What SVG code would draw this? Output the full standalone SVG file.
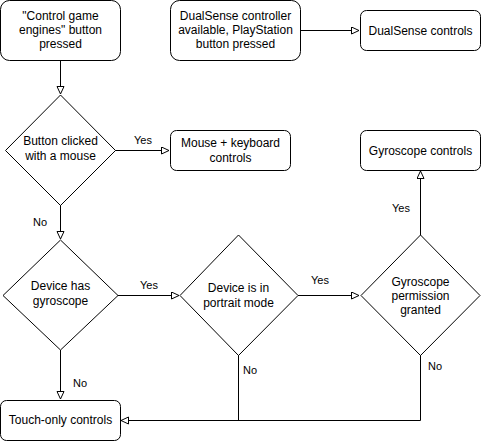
<svg xmlns="http://www.w3.org/2000/svg" width="481" height="441" viewBox="0 0 481 441">
<defs>
<marker id="arr" markerWidth="10" markerHeight="10" refX="8" refY="4" orient="auto" markerUnits="userSpaceOnUse">
<path d="M0.5,0.5 L8,4 L0.5,7.5 Z" fill="#fff" stroke="#000" stroke-width="1"/>
</marker>
</defs>
<style>
.box{fill:#fff;stroke:#000;stroke-width:1}
.t{font-family:"Liberation Sans",Arial,sans-serif;font-size:12px;fill:#000;text-anchor:middle}
.l{font-family:"Liberation Sans",Arial,sans-serif;font-size:11px;fill:#000;text-anchor:middle}
.c{fill:none;stroke:#000;stroke-width:1}
</style>
<rect width="481" height="441" fill="#fff"/>
<g id="connectors">
<path class="c" d="M60.5,60.5 V94" marker-end="url(#arr)"/>
<path class="c" d="M300.5,30.5 H359" marker-end="url(#arr)"/>
<path class="c" d="M115,150.5 H169" marker-end="url(#arr)"/>
<path class="c" d="M60.5,205 V239" marker-end="url(#arr)"/>
<path class="c" d="M118,295.5 H179" marker-end="url(#arr)"/>
<path class="c" d="M298,295.5 H359" marker-end="url(#arr)"/>
<path class="c" d="M60.5,350 V399" marker-end="url(#arr)"/>
<path class="c" d="M420.5,235 V171" marker-end="url(#arr)"/>
<path class="c" d="M420.5,355 V420.5 H121" marker-end="url(#arr)"/>
<path class="c" d="M238.5,355 V420.5"/>
<text class="l" x="143" y="144">Yes</text>
<text class="l" x="40" y="226">No</text>
<text class="l" x="149" y="289">Yes</text>
<text class="l" x="320" y="284">Yes</text>
<text class="l" x="80" y="387">No</text>
<text class="l" x="250" y="374">No</text>
<text class="l" x="435" y="370">No</text>
<text class="l" x="401" y="212">Yes</text>
</g>
<g id="start">
<rect class="box" x="0.5" y="0.5" width="120" height="60" rx="9"/>
<text class="t" x="60.5" y="20">"Control game</text>
<text class="t" x="60.5" y="34">engines" button</text>
<text class="t" x="60.5" y="48">pressed</text>
</g>
<g id="dualsense-start">
<rect class="box" x="170.5" y="0.5" width="130" height="60" rx="9"/>
<text class="t" x="235.5" y="20">DualSense controller</text>
<text class="t" x="235.5" y="34">available, PlayStation</text>
<text class="t" x="235.5" y="48">button pressed</text>
</g>
<g id="dualsense-controls">
<rect class="box" x="360.5" y="10.5" width="120" height="40" rx="6"/>
<text class="t" x="420.5" y="35">DualSense controls</text>
</g>
<g id="mouse-decision">
<path class="box" d="M60.5,95 L115.5,150.5 L60.5,205.5 L5.5,150.5 Z"/>
<text class="t" x="60.5" y="145">Button clicked</text>
<text class="t" x="60.5" y="160">with a mouse</text>
</g>
<g id="mouse-controls">
<rect class="box" x="170.5" y="130.5" width="120" height="40" rx="6"/>
<text class="t" x="230.5" y="147">Mouse + keyboard</text>
<text class="t" x="230.5" y="162">controls</text>
</g>
<g id="gyro-decision">
<path class="box" d="M60.5,240 L118,295.5 L60.5,350 L3,295.5 Z"/>
<text class="t" x="60.5" y="290">Device has</text>
<text class="t" x="60.5" y="305">gyroscope</text>
</g>
<g id="portrait-decision">
<path class="box" d="M238.5,235 L298,295.5 L238.5,355.5 L180,295.5 Z"/>
<text class="t" x="238.5" y="292">Device is in</text>
<text class="t" x="238.5" y="307">portrait mode</text>
</g>
<g id="permission-decision">
<path class="box" d="M420.5,235 L480,295.5 L420.5,355.5 L361,295.5 Z"/>
<text class="t" x="420.5" y="286">Gyroscope</text>
<text class="t" x="420.5" y="300">permission</text>
<text class="t" x="420.5" y="314">granted</text>
</g>
<g id="gyro-controls">
<rect class="box" x="360.5" y="130.5" width="120" height="40" rx="6"/>
<text class="t" x="420.5" y="155">Gyroscope controls</text>
</g>
<g id="touch-controls">
<rect class="box" x="0.5" y="400.5" width="120" height="40" rx="6"/>
<text class="t" x="60.5" y="424">Touch-only controls</text>
</g>
</svg>
